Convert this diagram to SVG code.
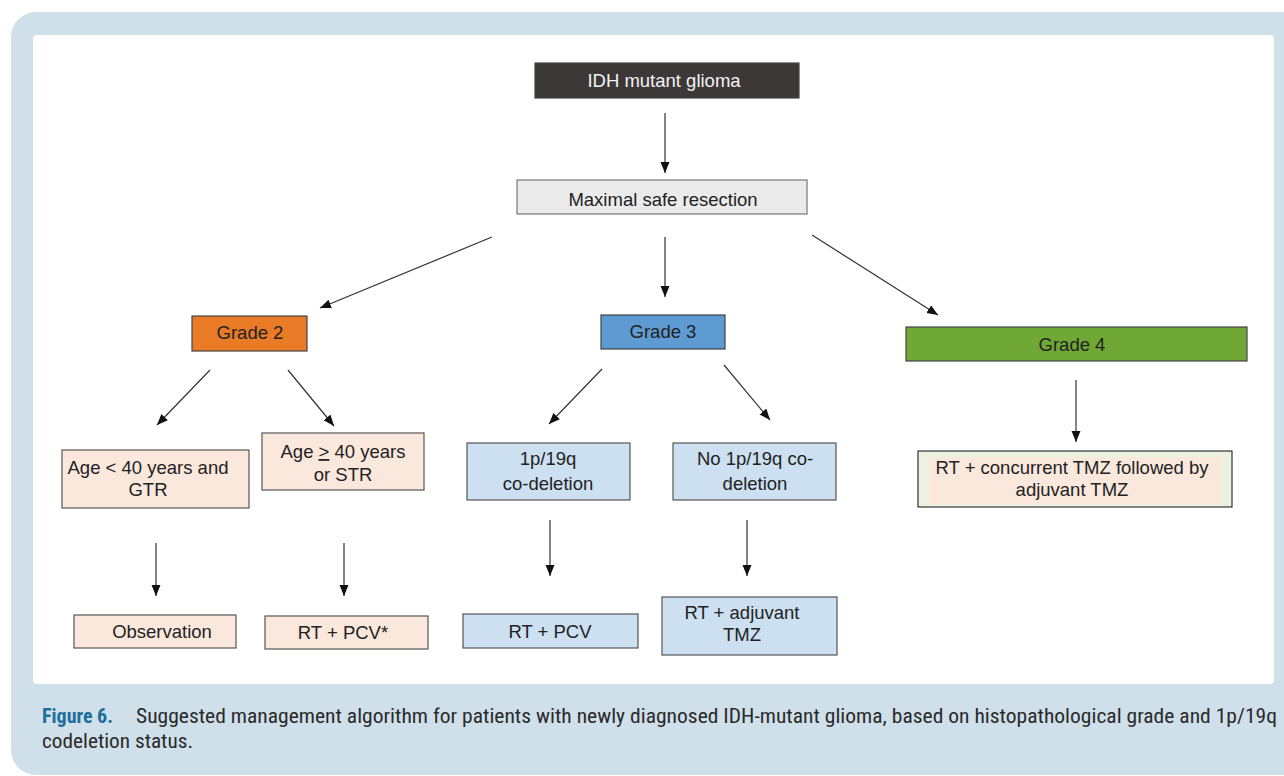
<svg xmlns="http://www.w3.org/2000/svg" width="1284" height="776" viewBox="0 0 1284 776">
<defs>
<style>
.t{font-family:"Liberation Sans",Arial,sans-serif;font-size:18.5px;fill:#222;text-anchor:middle}
.box{stroke:#444;stroke-width:1.2}
.peach{fill:#fbe8dd;stroke:#555;stroke-width:1.2}
.lblue{fill:#cde0f1;stroke:#555;stroke-width:1.2}
.cap{font-family:"Roboto Condensed","Liberation Sans Narrow","DejaVu Sans Condensed","Liberation Sans",sans-serif;font-size:21px;fill:#2a2a2a}
.edge{stroke:#333;stroke-width:1.2;fill:none;marker-end:url(#ah)}
</style>
<marker id="ah" markerUnits="userSpaceOnUse" markerWidth="12" markerHeight="10" refX="11" refY="4.5" orient="auto">
<path d="M0,0 L11,4.5 L0,9 z" fill="#111"/>
</marker>
</defs>
<rect x="11" y="12" width="1320" height="763" rx="25" fill="#cfe0ea"/>
<rect x="33" y="35" width="1241" height="649" rx="4" fill="#ffffff"/>

<g id="connectors">
<line class="edge" x1="665" y1="113" x2="665" y2="173"/>
<line class="edge" x1="492" y1="237" x2="320" y2="308"/>
<line class="edge" x1="665" y1="237" x2="665" y2="297"/>
<line class="edge" x1="812" y1="235" x2="938" y2="315"/>
<line class="edge" x1="210" y1="370" x2="157" y2="425"/>
<line class="edge" x1="288" y1="370" x2="334" y2="426"/>
<line class="edge" x1="602" y1="369" x2="549" y2="424"/>
<line class="edge" x1="724" y1="365" x2="770" y2="420"/>
<line class="edge" x1="1076" y1="380" x2="1076" y2="442"/>
<line class="edge" x1="156" y1="543" x2="156" y2="596"/>
<line class="edge" x1="344" y1="543" x2="344" y2="596"/>
<line class="edge" x1="550" y1="520" x2="550" y2="576"/>
<line class="edge" x1="747" y1="520" x2="747" y2="576"/>
</g>

<g id="n-idh">
<rect class="box" x="535" y="63" width="264" height="35" fill="#3c3837"/>
<text class="t" x="664" y="87" style="fill:#f2f2f2">IDH mutant glioma</text>
</g>
<g id="n-msr">
<rect x="517" y="180" width="290" height="34" fill="#ebebeb" stroke="#777" stroke-width="1.2"/>
<text class="t" x="663" y="206">Maximal safe resection</text>
</g>
<g id="n-g2">
<rect class="box" x="192" y="316" width="115" height="35" fill="#e97a26"/>
<text class="t" x="250" y="339">Grade 2</text>
</g>
<g id="n-g3">
<rect class="box" x="601" y="315" width="124" height="34" fill="#5e9bd3"/>
<text class="t" x="663" y="338">Grade 3</text>
</g>
<g id="n-g4">
<rect class="box" x="906" y="327" width="341" height="34" fill="#6fa834"/>
<text class="t" x="1072" y="351">Grade 4</text>
</g>
<g id="n-age-lt">
<rect class="peach" x="62" y="450" width="187" height="58"/>
<text class="t" x="148" y="474">Age &lt; 40 years and</text>
<text class="t" x="148" y="496">GTR</text>
</g>
<g id="n-age-ge">
<rect class="peach" x="262" y="433" width="162" height="57"/>
<text class="t" x="343" y="458">Age <tspan text-decoration="underline">&gt;</tspan> 40 years</text>
<text class="t" x="343" y="481">or STR</text>
</g>
<g id="n-codel">
<rect class="lblue" x="467" y="443" width="163" height="57"/>
<text class="t" x="548" y="465">1p/19q</text>
<text class="t" x="548" y="490">co-deletion</text>
</g>
<g id="n-nocodel">
<rect class="lblue" x="673" y="443" width="163" height="57"/>
<text class="t" x="755" y="465">No 1p/19q co-</text>
<text class="t" x="755" y="490">deletion</text>
</g>
<g id="n-g4tx">
<rect x="918" y="451" width="314" height="56" fill="#ecf2e0" stroke="#333" stroke-width="1.2"/>
<rect x="929" y="457" width="293" height="47" fill="#fbe8dd"/>
<text class="t" x="1072" y="474">RT + concurrent TMZ followed by</text>
<text class="t" x="1072" y="496">adjuvant TMZ</text>
</g>
<g id="n-obs">
<rect class="peach" x="74" y="615" width="162" height="33"/>
<text class="t" x="162" y="638">Observation</text>
</g>
<g id="n-rtpcvs">
<rect class="peach" x="265" y="616" width="163" height="33"/>
<text class="t" x="343" y="639">RT + PCV*</text>
</g>
<g id="n-rtpcv">
<rect class="lblue" x="463" y="614" width="175" height="34"/>
<text class="t" x="550" y="638">RT + PCV</text>
</g>
<g id="n-rtadj">
<rect class="lblue" x="662" y="597" width="175" height="58"/>
<text class="t" x="742" y="619">RT + adjuvant</text>
<text class="t" x="742" y="641">TMZ</text>
</g>

<g id="caption">
<text class="cap" x="42" y="723" textLength="71" lengthAdjust="spacingAndGlyphs" style="font-weight:bold;fill:#1f6f9c">Figure 6.</text>
<text class="cap" x="136" y="723" textLength="1141" lengthAdjust="spacingAndGlyphs">Suggested management algorithm for patients with newly diagnosed IDH-mutant glioma, based on histopathological grade and 1p/19q</text>
<text class="cap" x="42" y="748" textLength="151" lengthAdjust="spacingAndGlyphs">codeletion status.</text>
</g>
</svg>
